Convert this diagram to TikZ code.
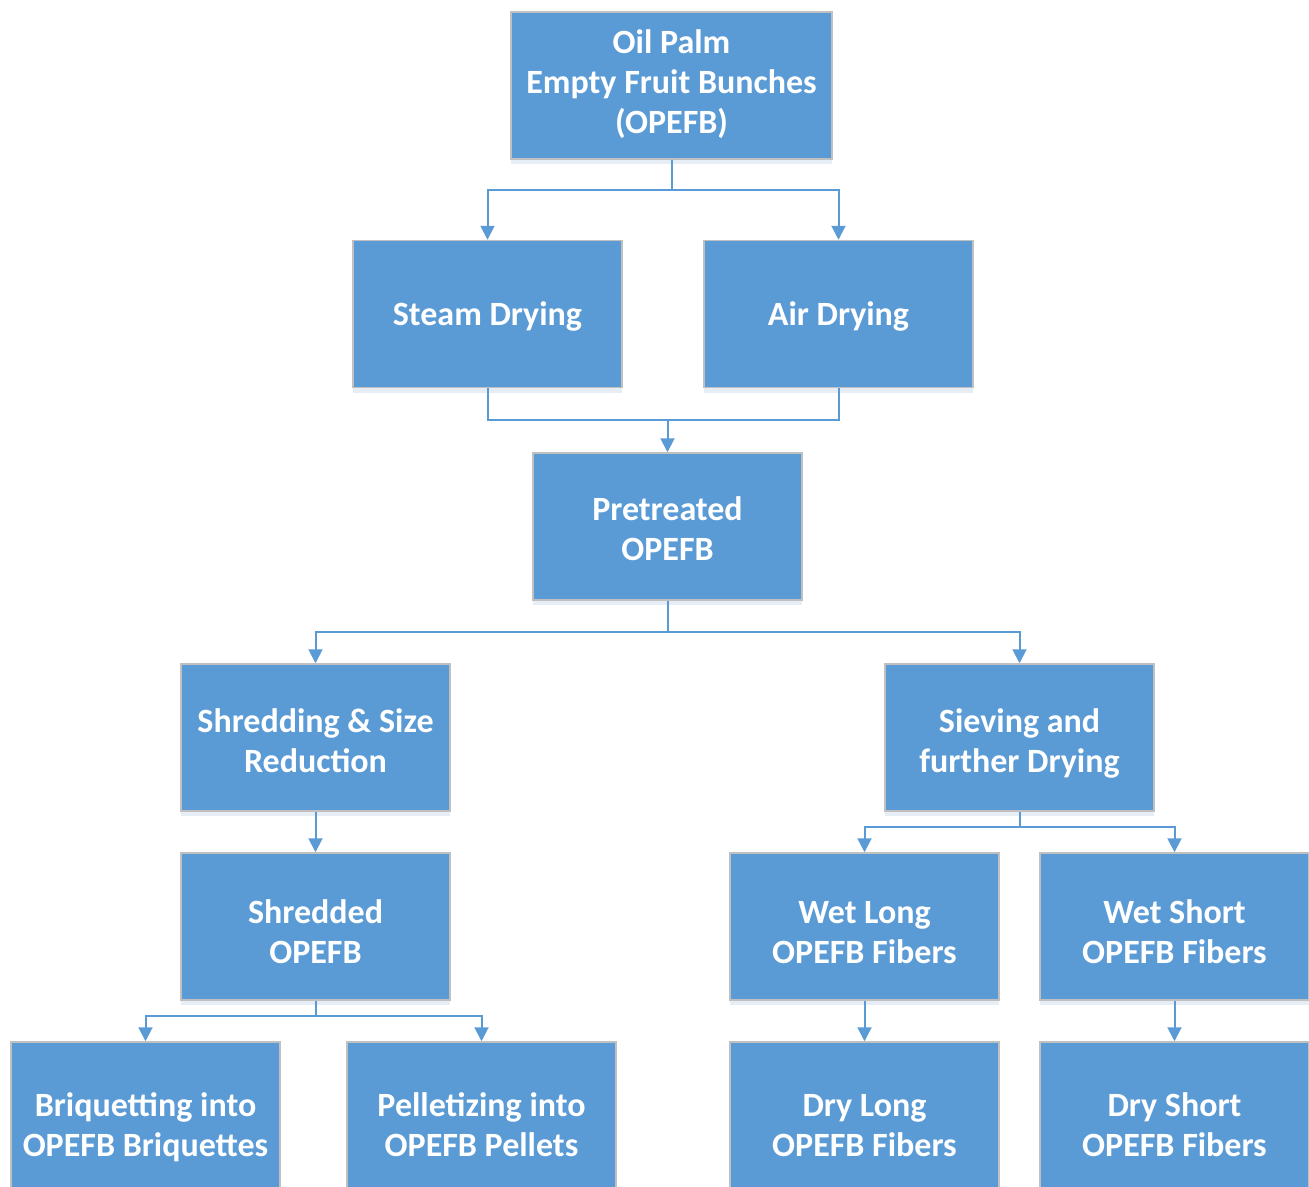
\documentclass[tikz,border=0pt]{standalone}
\usepackage{fontspec}
\setmainfont{Carlito}
\usetikzlibrary{arrows.meta,shadows}
\definecolor{boxblue}{HTML}{5B9BD5}
\definecolor{boxedge}{HTML}{C0C0C0}
\definecolor{shadowc}{HTML}{9DB9D8}
\newcommand{\bt}[2][0pt]{\raisebox{#1}[\height][\depth]{\begin{tabular}{@{}c@{}}#2\end{tabular}}}
\begin{document}
\begin{tikzpicture}[x=1pt,y=-1pt,
  box/.style={draw=boxedge, line width=1.5pt, fill=boxblue, text=white,
    minimum width=269pt, minimum height=147pt, inner sep=0pt, align=center,
    font=\bfseries\fontsize{34}{40}\selectfont,
    drop shadow={shadow xshift=0pt, shadow yshift=-5pt, opacity=0.25, fill=shadowc}},
  tallbox/.style={box, minimum height=161pt},
  conn/.style={draw=boxblue, line width=2pt},
  arr/.style={conn, -{Triangle[width=14pt,length=14pt]}}]
\useasboundingbox (0,0) rectangle (1309,1186);
\node[box, minimum width=321pt] (top) at (671.5,85.5) {\bt{Oil Palm\\Empty Fruit Bunches\\(OPEFB)}};
\node[box] (steam) at (487.5,314) {\bt[-3pt]{Steam Drying}};
\node[box] (air) at (838.5,314) {\bt[-3pt]{Air Drying}};
\node[box] (pre) at (667.5,526.5) {\bt[-5.5pt]{Pretreated\\OPEFB}};
\node[box] (shred) at (315.5,737.5) {\bt[-6.5pt]{Shredding \& Size\\Reduction}};
\node[box] (sieve) at (1019.5,737.5) {\bt[-6.5pt]{Sieving and\\further Drying}};
\node[box] (shredded) at (315.5,926.5) {\bt[-9pt]{Shredded\\OPEFB}};
\node[box] (wetlong) at (864.5,926.5) {\bt[-9pt]{Wet Long\\OPEFB Fibers}};
\node[box] (wetshort) at (1174.5,926.5) {\bt[-9pt]{Wet Short\\OPEFB Fibers}};
\node[tallbox] (briq) at (145.5,1122.5) {\bt[-5.5pt]{Briquetting into\\OPEFB Briquettes}};
\node[tallbox] (pell) at (481.5,1122.5) {\bt[-5.5pt]{Pelletizing into\\OPEFB Pellets}};
\node[tallbox] (drylong) at (864.5,1122.5) {\bt[-5.5pt]{Dry Long\\OPEFB Fibers}};
\node[tallbox] (dryshort) at (1174.5,1122.5) {\bt[-5.5pt]{Dry Short\\OPEFB Fibers}};
\coordinate (j1) at (671.5,190);
\coordinate (j2) at (667.5,420);
\coordinate (j3) at (667.5,632);
\coordinate (j4) at (1019.5,827);
\coordinate (j5) at (315.5,1016);
\draw[conn] (top.south) -- (j1);
\draw[arr] (j1) -| (steam.north);
\draw[arr] (j1) -| (air.north);
\draw[conn] (steam.south) |- (j2) -| (air.south);
\draw[arr] (j2) -- (pre.north);
\draw[conn] (pre.south) -- (j3);
\draw[arr] (j3) -| (shred.north);
\draw[arr] (j3) -| (sieve.north);
\draw[arr] (shred.south) -- (shredded.north);
\draw[conn] (sieve.south) -- (j4);
\draw[arr] (j4) -| (wetlong.north);
\draw[arr] (j4) -| (wetshort.north);
\draw[conn] (shredded.south) -- (j5);
\draw[arr] (j5) -| (briq.north);
\draw[arr] (j5) -| (pell.north);
\draw[arr] (wetlong.south) -- (drylong.north);
\draw[arr] (wetshort.south) -- (dryshort.north);
\end{tikzpicture}
\end{document}
